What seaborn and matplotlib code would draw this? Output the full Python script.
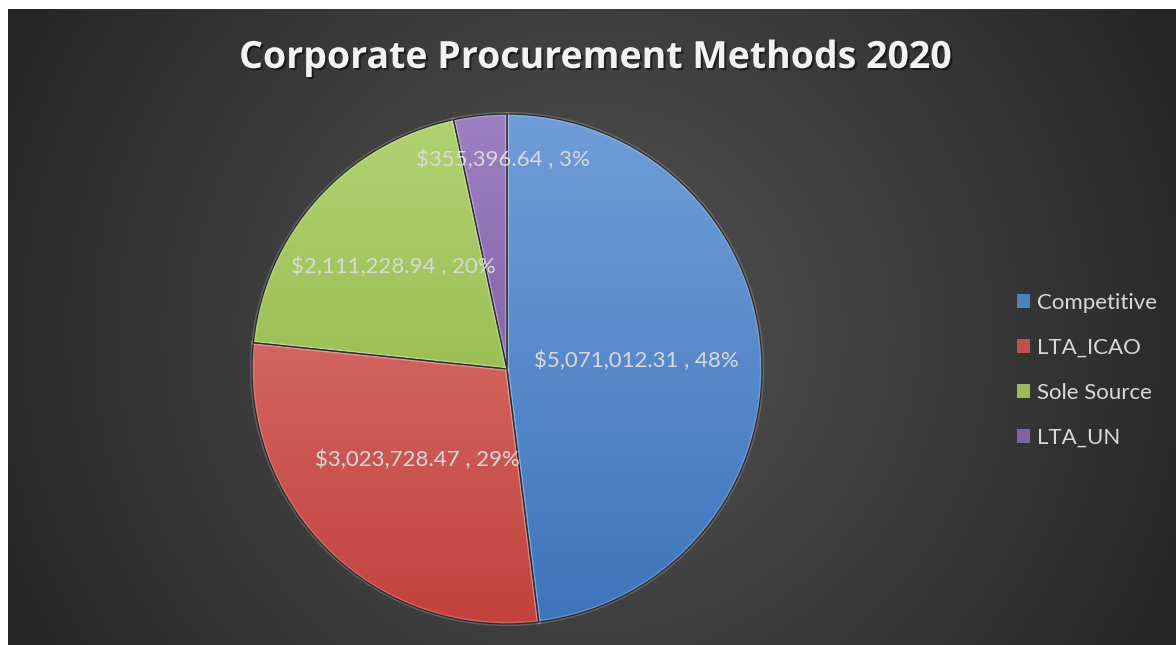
import numpy as np
import matplotlib
matplotlib.use("Agg")
import matplotlib.pyplot as plt
import matplotlib.colors as mcolors
import matplotlib.patheffects as pe
from matplotlib.patches import Patch
import seaborn as sns

# ---- data ----
categories = ["Competitive", "LTA_ICAO", "Sole Source", "LTA_UN"]
amounts = [5071012.31, 3023728.47, 2111228.94, 355396.64]
title_text = "Corporate Procurement Methods 2020"

# ---- style ----
base_colors = ["#4F81BD", "#C0504D", "#9BBB59", "#8064A2"]
top_colors = ["#709DD8", "#E0807C", "#B2D272", "#9C80C2"]
bottom_colors = ["#3E74BC", "#C2423D", "#86AC38", "#6C4C92"]
label_radius = [0.51, 0.50, 0.60, 0.82]
label_shift = [0.0, 0.0, 0.0, -5.0]
text_color = "#D9D9D9"

sns.set_theme(style="dark")
plt.rcParams["font.family"] = ["Lato", "DejaVu Sans"]

W, H = 1176, 645
fig = plt.figure(figsize=(W / 100, H / 100), dpi=100)
fig.patch.set_facecolor("white")

# background panel with radial gradient
bg = fig.add_axes([8 / W, 0, (W - 8) / W, (H - 9) / H])
bg.set_axis_off()
yy, xx = np.mgrid[9:H, 8:W]
d = np.sqrt((xx - 590) ** 2 + ((yy - 330) * 1.0) ** 2) / 660.0
d = np.clip(d, 0, 1.2)
g = (0x52 - (0x52 - 0x25) * d ** 1.1) / 255.0
g = np.clip(g, 0.12, 1)
bg.imshow(np.dstack([g, g, g]), aspect="auto", interpolation="bilinear")

# pie axes
cx, cy, r = 507, 369, 255
pad = 1.02
ax = fig.add_axes([(cx - r * pad) / W, (H - cy - r * pad) / H,
                   2 * r * pad / W, 2 * r * pad / H])
ax.set_axis_off()
wedges, _ = ax.pie(amounts, startangle=90, counterclock=False, radius=1,
                   colors=base_colors,
                   wedgeprops=dict(linewidth=0.9, edgecolor="#2a2a2a"))

# gradient fill clipped to each wedge
ny = 256
for w, tc, bc in zip(wedges, top_colors, bottom_colors):
    t = np.linspace(0, 1, ny)[:, None]
    c1 = np.array(mcolors.to_rgb(tc))
    c2 = np.array(mcolors.to_rgb(bc))
    img = (c1[None, None, :] * (1 - t[..., None]) + c2[None, None, :] * t[..., None])
    img = np.repeat(img, 4, axis=1)
    im = ax.imshow(img, extent=[-1, 1, -1, 1], aspect="auto", zorder=1,
                   interpolation="bilinear")
    im.set_clip_path(w)
    w.set_facecolor("none")
    w.set_zorder(2)
    w.set_path_effects([pe.Stroke(linewidth=3.0, foreground=(1, 1, 1, 0.18)),
                        pe.Normal()])

ax.set_xlim(-pad, pad)
ax.set_ylim(-pad, pad)

# data labels
total = sum(amounts)
start = 90.0
for i, v in enumerate(amounts):
    span = 360.0 * v / total
    mid = np.deg2rad(start - span / 2 + label_shift[i])
    start -= span
    rr = label_radius[i]
    lbl = f"${v:,.2f} , {100 * v / total:.0f}%"
    ax.text(rr * np.cos(mid), rr * np.sin(mid), lbl, ha="center", va="center",
            fontsize=16, color=text_color, zorder=5)

# title
fig.text(595 / W, 1 - 68 / H, title_text, ha="center", va="baseline",
         fontsize=27, fontweight="bold", color="#F2F2F2",
         family=["Open Sans", "DejaVu Sans"],
         path_effects=[pe.withSimplePatchShadow(offset=(1.5, -1.5),
                                                shadow_rgbFace="black", alpha=0.5)])

# legend
handles = [Patch(facecolor=c, edgecolor="none") for c in base_colors]
leg = fig.legend(handles, categories, loc="center left",
                 bbox_to_anchor=(1017 / W, 1 - 370.5 / H),
                 frameon=False, fontsize=16, labelcolor=text_color,
                 handlelength=0.6, handleheight=0.6, handletextpad=0.3,
                 labelspacing=1.13, borderpad=0, borderaxespad=0)

fig.savefig("out.png", dpi=100, facecolor=fig.get_facecolor())
